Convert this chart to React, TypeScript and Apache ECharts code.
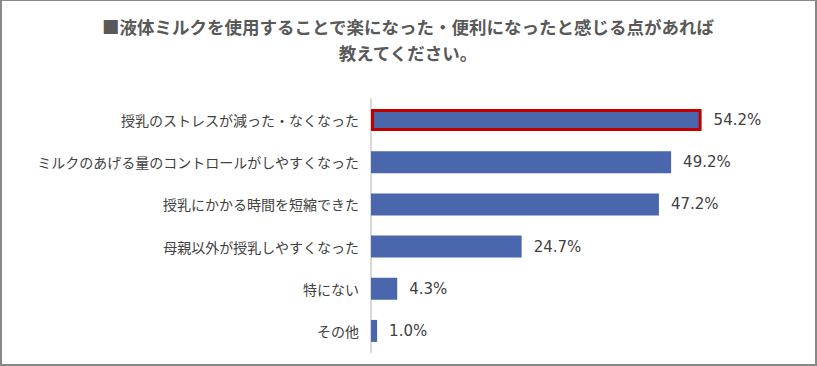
import React, { useEffect, useRef } from "react";
import * as echarts from "echarts";

const categories = [
  "授乳のストレスが減った・なくなった",
  "ミルクのあげる量のコントロールがしやすくなった",
  "授乳にかかる時間を短縮できた",
  "母親以外が授乳しやすくなった",
  "特にない",
  "その他",
];
const values = [54.2, 49.2, 47.2, 24.7, 4.3, 1.0];
const titleLines = ["■液体ミルクを使用することで楽になった・便利になったと感じる点があれば", "教えてください。"];

export default function App() {
  const ref = useRef<HTMLDivElement>(null);
  useEffect(() => {
    document.body.style.margin = "0";
    const chart = echarts.init(ref.current!, null, { renderer: "svg" });
    const font = "'Noto Sans CJK JP', 'Noto Sans', sans-serif";
    chart.setOption({
      animation: false,
      textStyle: { fontFamily: font },
      graphic: titleLines.map((t, i) => ({
        type: "text",
        x: 408,
        y: 17.5 + i * 26,
        style: {
          text: t,
          fontFamily: font,
          fontSize: 17.5,
          fontWeight: "bold",
          fill: "#595959",
          textAlign: "center",
        },
      })),
      grid: { left: 371, right: 80, top: 99, bottom: 14, containLabel: false },
      xAxis: {
        type: "value",
        min: 0,
        max: 60,
        show: false,
      },
      yAxis: {
        type: "category",
        data: categories,
        inverse: true,
        axisLine: { show: true, lineStyle: { color: "#d9d9d9", width: 2 } },
        axisTick: { show: false },
        axisLabel: { color: "#404040", fontSize: 14, margin: 12, fontFamily: font },
      },
      series: [
        {
          type: "bar",
          barWidth: 22,
          data: values.map((v, i) =>
            i === 0
              ? { value: v, itemStyle: { color: "#4a66ac", borderColor: "#c00000", borderWidth: 3 } }
              : { value: v }
          ),
          itemStyle: { color: "#4a66ac" },
          label: {
            show: true,
            position: "right",
            distance: 12,
            color: "#404040",
            fontSize: 15,
            fontFamily: "'DejaVu Sans', sans-serif",
            formatter: (p: any) => p.value.toFixed(1) + "%",
          },
        },
      ],
    });
    return () => chart.dispose();
  }, []);
  return (
    <div
      style={{
        position: "absolute",
        left: 0,
        top: 0,
        width: 817,
        height: 366,
        boxSizing: "border-box",
        borderTop: "1px solid #888",
        borderLeft: "2px solid #888",
        borderRight: "2px solid #888",
        borderBottom: "2px solid #888",
        background: "#fff",
      }}
    >
      <div ref={ref} style={{ position: "absolute", left: -2, top: -1, width: 817, height: 366 }} />
    </div>
  );
}
